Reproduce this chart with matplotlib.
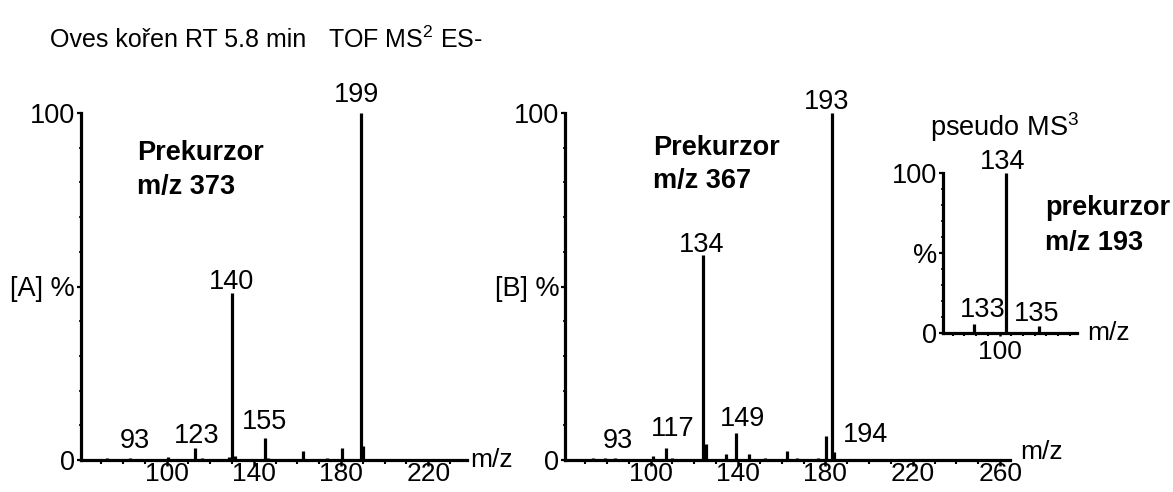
import matplotlib.pyplot as plt
import numpy as np

plt.rcParams['font.family'] = ['Liberation Sans', 'DejaVu Sans']
plt.rcParams['mathtext.default'] = 'regular'

# ---- data: peaks (m/z, relative intensity %) ----
mz_a = [82.6, 86, 93, 100, 110.7, 123, 126, 138.8, 140, 141.2, 155, 156.5,
        166, 172.6, 183.5, 190.4, 199, 200.2]
int_a = [0.5, 0.3, 0.6, 0.4, 0.9, 3.5, 0.6, 1.0, 48, 1.2, 6.3, 0.6,
         0.4, 2.6, 0.6, 3.5, 100, 4.0]
labels_a = [93, 123, 140, 155, 199]

mz_b = [83.6, 89, 93.6, 111.2, 117, 119.6, 126.5, 134, 135.2, 144.3, 149,
        155, 162.3, 172.5, 176.8, 186.7, 190.3, 193, 194]
int_b = [0.5, 0.5, 0.6, 1.2, 3.4, 0.7, 0.4, 59, 4.6, 1.8, 7.7,
         1.8, 0.5, 2.6, 0.6, 0.5, 6.9, 100, 2.2]
labels_b = [93, 117, 134, 149, 193, 194]

mz_c = [133, 134, 135]
int_c = [5.4, 100, 4.2]
labels_c = [133, 134, 135]

ticks_ab = [100, 140, 180, 220, 260]

# ---- layout (pixels of the 1173x492 figure) ----
W, H = 1173, 492
fig = plt.figure(figsize=(W / 100, H / 100), dpi=100)


def box(x0, x1, ytop, ybot):
    return [x0 / W, 1 - ybot / H, (x1 - x0) / W, (ybot - ytop) / H]


def px(x, y):
    return x / W, 1 - y / H


FS = 19.5
axA = fig.add_axes(box(81, 467, 113, 460))
axB = fig.add_axes(box(565, 1010, 113, 460))
axC = fig.add_axes(box(943, 1077, 173, 333))


def spectrum(ax, mz, inten, xlim, ylab):
    ax.vlines(mz, 0, inten, color='black', lw=2.3, clip_on=False)
    ax.set_xlim(xlim)
    ax.set_ylim(0, 100)
    for s in ['top', 'right']:
        ax.spines[s].set_visible(False)
    for s in ['left', 'bottom']:
        ax.spines[s].set_linewidth(2.3)
    ax.set_yticks([0, 50, 100], ['0', ylab, '100'])
    ax.set_yticks(np.arange(10, 100, 10), minor=True)
    ax.tick_params(axis='y', which='major', length=3, width=1.6, labelsize=FS, pad=1.2)
    ax.tick_params(axis='y', which='minor', length=1.5, width=1.2)
    ax.tick_params(axis='x', which='major', length=4.3, width=1.8, labelsize=19, pad=-2.6)
    ax.tick_params(axis='x', which='minor', length=3, width=1.5)


# the printed m/z scale in the source sits 10 units off the peak labels
SHIFT = 10

spectrum(axA, mz_a, int_a, (70.7, 247.8), '[A] %')
axA.set_xticks([t + SHIFT for t in ticks_ab[:4]], [str(t) for t in ticks_ab[:4]])
axA.set_xticks(np.arange(80, 248, 10), minor=True)

spectrum(axB, mz_b, int_b, (70.8, 274.5), '[B] %')
axB.set_xticks([t + SHIFT for t in ticks_ab], [str(t) for t in ticks_ab])
axB.set_xticks(np.arange(80, 275, 10), minor=True)

spectrum(axC, mz_c, int_c, (132.06, 136.18), '%')
axC.set_xticks([133.8], ['100'])
axC.set_xticks(np.arange(132.36, 136.1, 0.36), minor=True)
axC.tick_params(axis='x', which='both', length=2.2, pad=2.5)

# peak labels: (dx, dy) offsets in pixels
offs_a = {93: (5, 7), 123: (2, 5), 140: (-1, 4), 155: (0, 9), 199: (-4, 11)}
offs_b = {93: (3, 7), 117: (7, 12), 134: (-1, 3), 149: (7, 7), 193: (-5, 4), 194: (31, 10)}
offs_c = {133: (9, 7), 134: (-3, 4), 135: (-2, 5)}
for ax, mz, inten, labs, offs in [(axA, mz_a, int_a, labels_a, offs_a),
                                  (axB, mz_b, int_b, labels_b, offs_b),
                                  (axC, mz_c, int_c, labels_c, offs_c)]:
    for lab in labs:
        i = int(np.argmin(np.abs(np.array(mz) - lab)))
        ax.annotate(str(lab), xy=(mz[i], max(inten[i], 1.5)), xytext=offs[lab],
                    textcoords='offset pixels', ha='center', va='baseline', fontsize=FS)

# texts
fig.text(*px(50, 40), 'Oves kořen RT 5.8 min', fontsize=18, va='center', ha='left')
fig.text(*px(328, 40), 'TOF MS$^2$ ES-', fontsize=18, va='center', ha='left')
fig.text(*px(137, 153), 'Prekurzor', fontsize=FS, fontweight='bold', va='center')
fig.text(*px(137, 187), 'm/z 373', fontsize=FS, fontweight='bold', va='center')
fig.text(*px(653, 148), 'Prekurzor', fontsize=FS, fontweight='bold', va='center')
fig.text(*px(653, 181), 'm/z 367', fontsize=FS, fontweight='bold', va='center')
fig.text(*px(1045, 208), 'prekurzor', fontsize=FS, fontweight='bold', va='center')
fig.text(*px(1045, 243), 'm/z 193', fontsize=FS, fontweight='bold', va='center')
fig.text(*px(930, 127), 'pseudo MS$^3$', fontsize=FS, va='center')
fig.text(*px(470, 460), 'm/z', fontsize=19, va='center')
fig.text(*px(1020, 452), 'm/z', fontsize=19, va='center')
fig.text(*px(1087, 333), 'm/z', fontsize=19, va='center')

fig.savefig('out.png', dpi=100)
